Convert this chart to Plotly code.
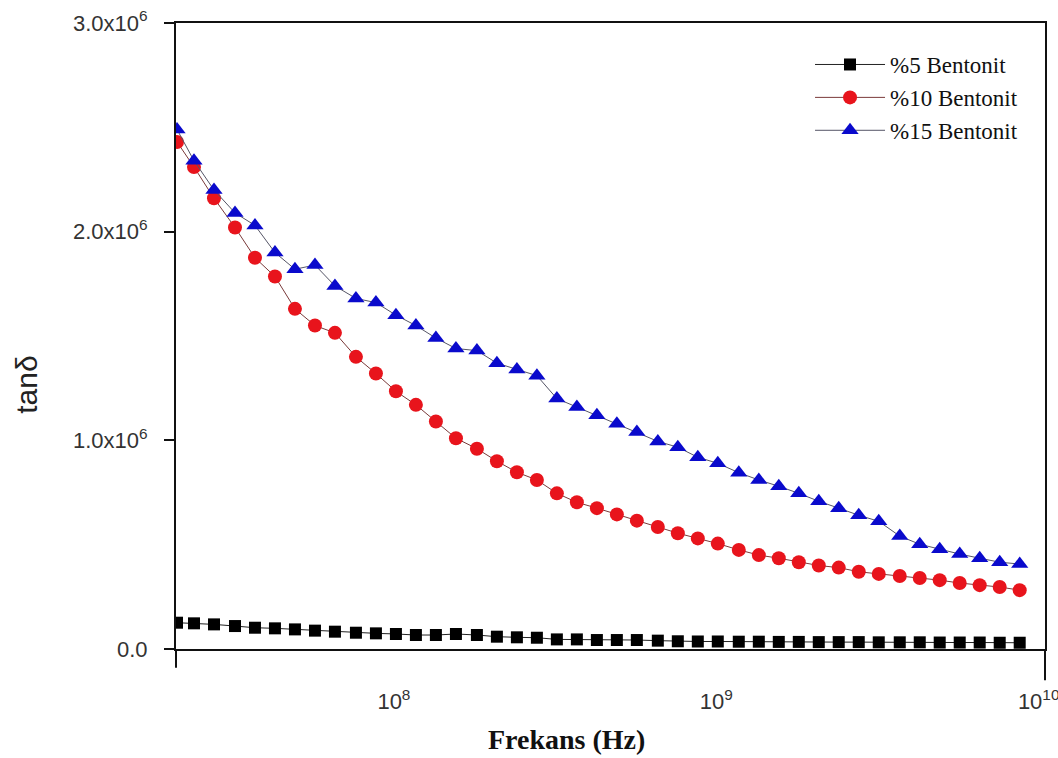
import plotly.graph_objects as go

# Frequencies (Hz) of the plotted points
freq = [2.035e7, 2.297e7, 2.650e7, 3.079e7, 3.551e7, 4.096e7, 4.725e7, 5.451e7, 6.287e7, 7.304e7,
        8.425e7, 9.719e7, 1.121e8, 1.293e8, 1.492e8, 1.733e8, 1.999e8, 2.306e8, 2.660e8, 3.068e8,
        3.539e8, 4.083e8, 4.709e8, 5.432e8, 6.310e8, 7.278e8, 8.395e8, 9.683e8, 1.125e9, 1.298e9,
        1.497e9, 1.727e9, 1.992e9, 2.297e9, 2.650e9, 3.057e9, 3.552e9, 4.097e9, 4.725e9, 5.451e9,
        6.287e9, 7.253e9, 8.366e9]

# tan delta values (x 1e6)
bent5 = [0.126, 0.123, 0.118, 0.110, 0.102, 0.099, 0.094, 0.088, 0.083, 0.078,
         0.075, 0.072, 0.067, 0.067, 0.072, 0.067, 0.059, 0.056, 0.054, 0.046,
         0.046, 0.043, 0.043, 0.043, 0.040, 0.037, 0.036, 0.036, 0.035, 0.035,
         0.034, 0.034, 0.033, 0.033, 0.033, 0.032, 0.032, 0.032, 0.031, 0.031,
         0.031, 0.030, 0.030]
bent10 = [2.43, 2.31, 2.16, 2.02, 1.875, 1.785, 1.63, 1.55, 1.515, 1.40,
          1.32, 1.235, 1.17, 1.09, 1.01, 0.96, 0.90, 0.847, 0.81, 0.746,
          0.703, 0.675, 0.645, 0.615, 0.585, 0.555, 0.53, 0.505, 0.475, 0.45,
          0.435, 0.416, 0.40, 0.39, 0.37, 0.36, 0.35, 0.34, 0.33, 0.316,
          0.306, 0.297, 0.282]
bent15 = [2.49, 2.34, 2.20, 2.09, 2.03, 1.90, 1.82, 1.84, 1.74, 1.68,
          1.66, 1.60, 1.55, 1.49, 1.44, 1.43, 1.37, 1.34, 1.31, 1.20,
          1.16, 1.12, 1.08, 1.04, 0.995, 0.967, 0.919, 0.89, 0.845, 0.81,
          0.78, 0.746, 0.708, 0.675, 0.641, 0.612, 0.541, 0.502, 0.478, 0.455,
          0.435, 0.416, 0.407]

names = ["%5 Bentonit", "%10 Bentonit", "%15 Bentonit"]
y_tickvals = [0, 1e6, 2e6, 3e6]
y_ticktext = ["0.0", "1.0x10<sup>6</sup>", "2.0x10<sup>6</sup>", "3.0x10<sup>6</sup>"]
x_tickvals = [1e8, 1e9, 1e10]
x_ticktext = ["10<sup>8</sup>", "10<sup>9</sup>", "10<sup>10</sup>"]

fig = go.Figure()
fig.add_trace(go.Scatter(x=freq, y=[v * 1e6 for v in bent5], name=names[0], mode="lines+markers",
                         line=dict(color="#222222", width=1),
                         marker=dict(symbol="square", size=12, color="#000000")))
fig.add_trace(go.Scatter(x=freq, y=[v * 1e6 for v in bent10], name=names[1], mode="lines+markers",
                         line=dict(color="#7a3a3a", width=1),
                         marker=dict(symbol="circle", size=14, color="#e8141c")))
fig.add_trace(go.Scatter(x=freq, y=[v * 1e6 for v in bent15], name=names[2], mode="lines+markers",
                         line=dict(color="#555566", width=1),
                         marker=dict(symbol="triangle-up", size=15, color="#0a0acc")))

fig.update_layout(
    width=1058, height=758,
    margin=dict(l=176, r=13, t=23, b=109),
    paper_bgcolor="white", plot_bgcolor="white",
    showlegend=True,
    legend=dict(x=0.7296, y=0.968, xanchor="left", yanchor="top",
                font=dict(family="Liberation Serif", size=23, color="#111111"),
                bgcolor="rgba(0,0,0,0)", tracegroupgap=0, itemwidth=70),
    xaxis=dict(type="log", range=[7.3054, 10.001], showgrid=False, zeroline=False,
               showline=True, linecolor="#111111", linewidth=2, mirror=True,
               ticks="", tickvals=x_tickvals, ticktext=x_ticktext,
               tickfont=dict(family="Liberation Sans", size=22, color="#333333"),
               ticklabelstandoff=32, ticklabeloverflow="allow", ticklabelshift=-6,
               automargin=False),
    yaxis=dict(range=[0, 3e6], showgrid=False, zeroline=False,
               showline=True, linecolor="#111111", linewidth=2, mirror=True,
               ticks="outside", ticklen=10, tickwidth=2, tickcolor="#111111",
               tickvals=y_tickvals, ticktext=y_ticktext,
               tickfont=dict(family="Liberation Sans", size=22, color="#333333"),
               ticklabelstandoff=12, automargin=False),
    shapes=[
        dict(type="line", xref="paper", yref="paper", x0=0, x1=0, y0=0, y1=-0.03,
             line=dict(color="#111111", width=2)),
        dict(type="line", xref="paper", yref="paper", x0=1, x1=1, y0=0, y1=-0.05,
             line=dict(color="#111111", width=2)),
    ],
    annotations=[
        dict(text="<b>Frekans (Hz)</b>", xref="paper", yref="paper", x=0.449, y=-0.145,
             xanchor="center", yanchor="middle", showarrow=False,
             font=dict(family="Liberation Serif", size=28, color="#111111")),
        dict(text="tanδ", xref="paper", yref="paper", x=-0.1715, y=0.422,
             xanchor="center", yanchor="middle", showarrow=False, textangle=-90,
             font=dict(family="Liberation Sans", size=30, color="#222222")),
    ],
)

fig.write_html("out.html")
